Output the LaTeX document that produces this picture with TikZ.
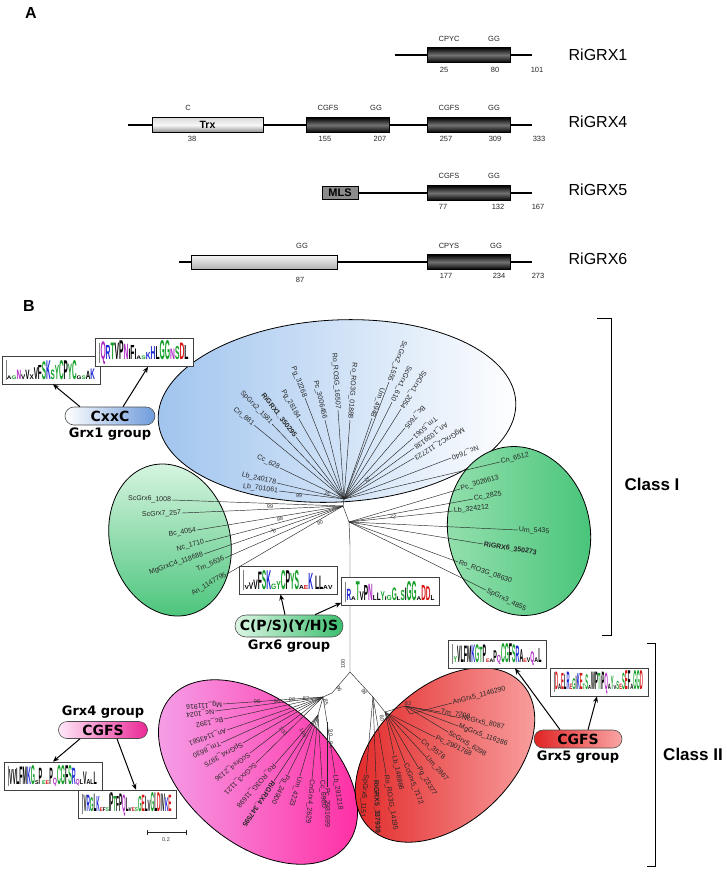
\documentclass[tikz,border=0pt]{standalone}
\usepackage{fontspec}
\setmainfont{Liberation Sans}
\newfontfamily\grpfont{DejaVu Sans}
\usepackage{graphicx}
\usetikzlibrary{arrows.meta,positioning,shapes.misc}

\definecolor{bluL}{RGB}{160,196,238}
\definecolor{grnL}{RGB}{220,246,228}
\definecolor{grnM}{RGB}{150,225,175}
\definecolor{grnD}{RGB}{70,195,120}
\definecolor{pnkL}{RGB}{245,165,235}
\definecolor{pnkW}{RGB}{255,232,248}
\definecolor{pnkD}{RGB}{255,40,160}
\definecolor{redD}{RGB}{225,35,35}
\definecolor{redM}{RGB}{238,80,80}
\definecolor{redL}{RGB}{250,165,165}
\definecolor{pillB}{RGB}{110,155,220}
\definecolor{pillG}{RGB}{60,190,110}
\definecolor{pillP}{RGB}{235,40,150}
\definecolor{lgcP}{RGB}{20,160,40}
\definecolor{lgcB}{RGB}{30,40,210}
\definecolor{lgcA}{RGB}{215,20,20}
\definecolor{lgcN}{RGB}{175,40,195}

% logo letters: stack height, letter
\newcommand{\lgH}[2]{\scalebox{1}[#1]{#2}}
\newcommand{\lgP}[2]{\textcolor{lgcP}{\scalebox{1}[#1]{#2}}}
\newcommand{\lgB}[2]{\textcolor{lgcB}{\scalebox{1}[#1]{#2}}}
\newcommand{\lgA}[2]{\textcolor{lgcA}{\scalebox{1}[#1]{#2}}}
\newcommand{\lgN}[2]{\textcolor{lgcN}{\scalebox{1}[#1]{#2}}}

% tree leaves: name, outer end, hub, label
\newcommand{\inleaf}[4]{\draw[branch] (#2) -- (#3) node[leafin] (#1) {#4};}
\newcommand{\outleaf}[4]{\draw[branch] (#3) -- (#2) node[leafout] (#1) {#4};}
\newcommand{\bsv}[4]{\node[boot, rotate=#3] (#1) at (#2) {#4};}

\tikzset{
  backbone/.style={line width=1.3pt},
  dom/.style={draw, line width=0.8pt, minimum height=15pt, minimum width=83pt, inner sep=0pt,
    top color=black, bottom color=black, middle color=black!55},
  trxbox/.style={draw, line width=0.8pt, minimum height=15pt, inner sep=0pt,
    top color=black!15, bottom color=black!45, middle color=black!3,
    font=\bfseries\fontsize{10.5}{11}\selectfont},
  mlsbox/.style={draw, line width=0.8pt, minimum height=13pt, minimum width=36pt, inner sep=0pt,
    fill=black!45, font=\bfseries\fontsize{11}{11}\selectfont},
  lightbox/.style={draw, line width=0.8pt, minimum height=14pt, inner sep=0pt,
    top color=black!4, bottom color=black!30},
  mot/.style={font=\fontsize{7.5}{8}\selectfont, text=black!85},
  prot/.style={font=\fontsize{16}{16}\selectfont},
  branch/.style={line width=0.45pt, black!85},
  leafin/.style={pos=0, sloped, allow upside down, anchor=east, inner sep=0.8pt,
    font=\fontsize{7}{7}\selectfont},
  leafout/.style={pos=1, sloped, allow upside down, anchor=west, inner sep=0.8pt,
    font=\fontsize{7}{7}\selectfont},
  boot/.style={font=\fontsize{5.5}{5.5}\selectfont, text=black!80, inner sep=0pt},
  logo/.style={draw=black!75, line width=0.7pt, fill=white, minimum width=98pt,
    minimum height=28pt, inner sep=0pt, font=\bfseries,
    path picture={\draw[black!50, line width=0.3pt]
      ([xshift=4pt,yshift=4pt]path picture bounding box.south west) --
      ([xshift=4pt,yshift=-4pt]path picture bounding box.north west);}},
  pill/.style={rounded rectangle, draw=black!70, line width=0.6pt, minimum height=18pt,
    inner sep=2pt, font=\grpfont\bfseries\fontsize{14}{14}\selectfont},
  grp/.style={font=\grpfont\bfseries\fontsize{13}{13}\selectfont, inner sep=1pt},
  arr/.style={-{Stealth[length=6pt,width=5pt]}, line width=1pt},
  cls/.style={font=\bfseries\fontsize{17}{17}\selectfont},
  bracket/.style={line width=1pt},
}

\begin{document}
\begin{tikzpicture}[x=1pt, y=-1pt]
\useasboundingbox (0,0) rectangle (727,872);

%% panel A
\node[font=\bfseries\fontsize{16}{16}\selectfont] (lblA) at (31,13) {A};

% RiGRX1
\node[dom] (d1) at (468.5,55) {};
\draw[backbone] (395,55) -- (d1) -- (532,55);
\node[mot] (d1a) at (449,39) {CPYC};
\node[mot] (d1b) at (494,39) {GG};
\foreach \x/\t [count=\i] in {444/25,495/80,537/101}
  \node[mot] (d1n\i) at (\x,70) {\t};
\node[prot] (g1) at (598,55) {RiGRX1};

% RiGRX4
\node[trxbox, minimum width=111pt] (trx) at (207.5,125) {Trx};
\node[dom] (d4a) at (347.5,125) {};
\node[dom] (d4b) at (468.5,125) {};
\draw[backbone] (128,125) -- (trx) -- (d4a) -- (d4b) -- (532,125);
\foreach \x/\t [count=\i] in {188/C,328/CGFS,376/GG,449/CGFS,494/GG}
  \node[mot] (d4m\i) at (\x,108) {\t};
\foreach \x/\t [count=\i] in {192/38,325/155,380/207,446/257,495/309,539/333}
  \node[mot] (d4n\i) at (\x,139) {\t};
\node[prot] (g4) at (598,122) {RiGRX4};

% RiGRX5
\node[mlsbox] (mls) at (340,193) {MLS};
\node[dom] (d5) at (468.5,193) {};
\draw[backbone] (mls) -- (d5) -- (532,193);
\foreach \x/\t [count=\i] in {449/CGFS,494/GG}
  \node[mot] (d5m\i) at (\x,176) {\t};
\foreach \x/\t [count=\i] in {443/77,498/132,538/167}
  \node[mot] (d5n\i) at (\x,207) {\t};
\node[prot] (g5) at (598,190) {RiGRX5};

% RiGRX6
\node[lightbox, minimum width=146pt] (lb6) at (264,262) {};
\node[dom] (d6) at (468.5,262) {};
\draw[backbone] (179,262) -- (lb6) -- (d6) -- (532,262);
\foreach \x/\t [count=\i] in {302/GG,449/CPYS,496/GG}
  \node[mot] (d6m\i) at (\x,246) {\t};
\foreach \x/\t [count=\i] in {446/177,499/234,538/273}
  \node[mot] (d6n\i) at (\x,276) {\t};
\node[mot] (d6n0) at (300,280) {87};
\node[prot] (g6) at (598,259) {RiGRX6};

%% panel B
\node[font=\bfseries\fontsize{16}{16}\selectfont] (lblB) at (29,306) {B};

% group ellipses
\path[draw, line width=0.8pt, left color=bluL, right color=white, shift={(337,411)}, rotate=3]
  (0,0) ellipse [x radius=179pt, y radius=91pt];
\path[draw, line width=0.8pt, top color=grnL, bottom color=grnD, shift={(170,540)}, rotate=15]
  (0,0) ellipse [x radius=60pt, y radius=77pt];
\path[draw, line width=0.8pt, left color=grnM, middle color=grnL!60!white, right color=grnD,
  shift={(519,531)}, rotate=12] (0,0) ellipse [x radius=71pt, y radius=85pt];
\path[draw, line width=0.8pt, left color=pnkL, middle color=pnkW, right color=pnkD,
  shift={(258,772)}, rotate=-40] (0,0) ellipse [x radius=115pt, y radius=72pt];
\path[draw, line width=0.8pt, left color=redD, middle color=redM, right color=redL,
  shift={(445,755)}, rotate=43] (0,0) ellipse [x radius=105pt, y radius=68pt];

% hubs
\coordinate (hB) at (344,499);
\coordinate (hL) at (343,506);
\coordinate (hR) at (349,522);
\coordinate (split) at (350,672);
\coordinate (hPa) at (332,693);
\coordinate (hP) at (323,697);
\coordinate (hP2) at (318,715);
\coordinate (hP3) at (327,722);
\coordinate (hRd) at (373,697);
\coordinate (hRd1) at (385,712);
\coordinate (hRd2) at (405,706);
\coordinate (hRd3) at (410,714);

\draw[branch] (hB) -- (hL) -- (hR) -- (350,545) -- (split);
\draw[branch] (split) -- (hPa) -- (hP) -- (hP2);
\draw[branch] (hP) -- (hP3);
\draw[branch] (split) -- (hRd) -- (hRd1) -- (hRd2) -- (hRd3);

% Grx1 group
\inleaf{b1}{254,425}{hB}{Cn\_881}
\inleaf{b2}{272,424}{hB}{SpGrx2\_1581}
\inleaf{b3}{296,437}{hB}{\textbf{RiGRX1\_350295}}
\inleaf{b4}{299,419}{hB}{Pg\_28184}
\inleaf{b5}{305,398}{hB}{Pg\_32268}
\inleaf{b6}{325,420}{hB}{Pc\_3006456}
\inleaf{b7}{338,410}{hB}{Ro\_RO3G\_16507}
\inleaf{b8}{350,420}{hB}{Ro\_RO3G\_01888}
\inleaf{b9}{372,418}{hB}{Um\_4948}
\inleaf{b10}{389,382}{hB}{ScGrx2\_1555}
\inleaf{b11}{392,402}{hB}{ScGrx1\_610}
\inleaf{b12}{401,409}{hB}{SpGrx1\_2054}
\inleaf{b13}{405,428}{hB}{Bc\_7605}
\inleaf{b14}{413,438}{hB}{Tm\_5061}
\inleaf{b15}{414,448}{hB}{An\_1039138}
\inleaf{b16}{414,458}{hB}{MgGrxC2\_112723}
\inleaf{b17}{451,458}{hB}{Nc\_7640}
\inleaf{b18}{280,468}{hB}{Cc\_628}
\inleaf{b19}{277,483}{hB}{Lb\_240178}
\inleaf{b20}{279,491}{hB}{Lb\_701061}

% Grx6 group, left
\inleaf{l1}{172,500}{hL}{ScGrx6\_1008}
\inleaf{l2}{182,513}{hL}{ScGrx7\_257}
\inleaf{l3}{197,530}{hL}{Bc\_4054}
\inleaf{l4}{205,542}{hL}{Nc\_1710}
\inleaf{l5}{204,554}{hL}{MgGrxC4\_118688}
\inleaf{l6}{225,558}{hL}{Tm\_5636}
\inleaf{l7}{227,574}{hL}{An\_1147795}

% Grx6 group, right
\outleaf{r1}{500,462}{hB}{Cn\_6512}
\outleaf{r2}{460,489}{hR}{Pc\_3026613}
\outleaf{r3}{473,499}{hR}{Cc\_2825}
\outleaf{r4}{453,511}{hR}{Lb\_324212}
\outleaf{r5}{518,530}{hR}{Um\_5435}
\outleaf{r6}{483,544}{hR}{\textbf{RiGRX6\_350273}}
\outleaf{r7}{458,562}{hR}{Ro\_RO3G\_08630}
\outleaf{r8}{486,590}{hR}{SpGrx3\_4855}

% Grx4 group
\outleaf{p1}{223,704}{hP}{Mg\_111916}
\outleaf{p2}{215,711}{hP}{Nc\_1024}
\outleaf{p3}{224,719}{hP}{Bc\_1392}
\outleaf{p4}{227,730}{hP}{An\_1143581}
\outleaf{p5}{221,743}{hP}{Tm\_8630}
\outleaf{p6}{243,743}{hP}{SpGrx4\_3975}
\outleaf{p7}{250,753}{hP}{ScGrx4\_2136}
\outleaf{p8}{256,763}{hP}{ScGrx3\_1121}
\outleaf{p9}{275,764}{hP2}{Ro\_RO3G\_11698}
\outleaf{p10}{274,781}{hP2}{\textbf{RiGRX4\_347595}}
\outleaf{p11}{288,774}{hP2}{Pg\_24900}
\outleaf{p12}{300,776}{hP2}{Um\_4223}
\outleaf{p13}{312,779}{hP2}{CnGrx4\_2629}
\outleaf{p14}{322,779}{hP2}{Cc\_6980}
\outleaf{p15}{327,787}{hP3}{Pc\_2981699}
\outleaf{p16}{335,774}{hP3}{Lb\_291218}

% Grx5 group
\outleaf{d1}{366,774}{hRd}{SpGrx5\_1151}
\outleaf{d2}{376,779}{hRd}{\textbf{RiGRX5\_337939}}
\outleaf{d3}{386,774}{hRd}{Ro\_RO3G\_14195}
\outleaf{d4}{394,755}{hRd1}{Lb\_148866}
\outleaf{d5}{405,763}{hRd1}{CcGrx5\_7172}
\outleaf{d6}{418,767}{hRd1}{Pg\_23377}
\outleaf{d7}{426,757}{hRd1}{Um\_2867}
\outleaf{d8}{421,740}{hRd1}{Cn\_3578}
\outleaf{d9}{435,737}{hRd1}{Pc\_2901768}
\outleaf{d10}{448,732}{hRd2}{ScGrx5\_6298}
\outleaf{d11}{458,726}{hRd2}{MgGrx5\_116286}
\outleaf{d12}{461,718}{hRd2}{NcGrx5\_8087}
\outleaf{d13}{440,712}{hRd2}{Tm\_7208}
\outleaf{d14}{452,703}{hRd3}{AnGrx5\_1146290}

% bootstrap values
\bsv{bs1}{327,494}{-30}{75}
\bsv{bs2}{299,496}{-5}{99}
\bsv{bs3}{367,480}{-60}{72}
\bsv{bs4}{270,507}{0}{99}
\bsv{bs5}{280,519}{5}{98}
\bsv{bs6}{273,531}{-15}{76}
\bsv{bs7}{320,523}{15}{90}
\bsv{bs8}{393,517}{-10}{72}
\bsv{bs9}{343,664}{90}{100}
\bsv{bs10}{257,702}{0}{98}
\bsv{bs11}{277,702}{0}{96}
\bsv{bs12}{292,700}{0}{98}
\bsv{bs13}{306,699}{0}{82}
\bsv{bs14}{339,689}{-60}{96}
\bsv{bs15}{326,702}{-80}{85}
\bsv{bs16}{283,731}{-50}{100}
\bsv{bs17}{303,733}{-60}{100}
\bsv{bs18}{331,733}{-90}{90}
\bsv{bs19}{331,745}{-90}{94}
\bsv{bs20}{364,692}{-60}{98}
\bsv{bs21}{408,704}{0}{83}
\bsv{bs22}{382,718}{-80}{80}

% scale bar
\coordinate (sb1) at (147,832);
\coordinate (sb2) at (186,832);
\draw[branch] (sb1) -- (sb2);
\draw[branch] ([yshift=-2.5pt]sb1) -- ([yshift=2.5pt]sb1);
\draw[branch] ([yshift=-2.5pt]sb2) -- ([yshift=2.5pt]sb2);
\node[boot] (sbl) at (166,840) {0.2};

% classes
\draw[bracket] (597,318) -- (611,318) -- (611,635) -- (602,635);
\draw[bracket] (647,643) -- (655,643) -- (655,866) -- (647,866);
\node[cls] (c1) at (652,484) {Class I};
\node[cls] (c2) at (693,754) {Class II};

% logos
\node[logo] (l1a) at (51,370) {\resizebox{88pt}{19pt}{\lgH{.3}{A}\lgP{.3}{G}\lgN{.8}{N}\lgH{.4}{V}\lgH{.8}{V}\lgH{.4}{X}\lgH{1.0}{V}\lgH{1.2}{F}\lgP{1.5}{S}\lgB{1.6}{K}\lgP{.8}{S}\lgP{1.2}{Y}\lgP{1.6}{C}\lgH{1.6}{P}\lgP{1.3}{Y}\lgP{1.6}{C}\lgH{.3}{G}\lgP{.3}{S}\lgH{.7}{A}\lgB{.9}{K}}};
\node[logo] (l1b) at (144.5,352.5) {\resizebox{88pt}{19pt}{\lgN{1.5}{Q}\lgB{1.2}{R}\lgP{1.4}{T}\lgH{1.4}{V}\lgH{1.6}{P}\lgN{1.3}{N}\lgH{.9}{I}\lgH{1.2}{F}\lgH{.9}{I}\lgH{.3}{A}\lgP{.3}{S}\lgB{.6}{K}\lgB{1.1}{H}\lgH{1.1}{L}\lgP{1.6}{G}\lgP{1.6}{G}\lgN{.9}{N}\lgP{1.1}{S}\lgA{1.4}{D}\lgH{1.2}{L}}};
\node[logo] (l6a) at (288.5,580) {\resizebox{88pt}{19pt}{\lgH{.3}{V}\lgH{.5}{V}\lgH{.7}{V}\lgH{1.3}{F}\lgP{1.4}{S}\lgB{1.4}{K}\lgP{.4}{G}\lgP{.6}{Y}\lgP{1.4}{C}\lgH{1.4}{P}\lgP{1.2}{Y}\lgP{1.4}{S}\lgH{.3}{A}\lgA{.3}{E}\lgB{1.2}{K}\lgH{.3}{\ }\lgH{1.0}{L}\lgH{1.0}{L}\lgH{.3}{A}\lgH{.3}{V}}};
\node[logo] (l6b) at (390.5,591.5) {\resizebox{88pt}{19pt}{\lgB{.9}{R}\lgH{.3}{A}\lgP{1.5}{T}\lgH{.7}{V}\lgH{1.2}{P}\lgN{1.3}{N}\lgH{.4}{L}\lgH{.6}{L}\lgP{.7}{Y}\lgH{.3}{I}\lgP{.4}{G}\lgP{1.0}{G}\lgH{.3}{L}\lgP{.8}{S}\lgH{1.0}{I}\lgP{1.5}{G}\lgP{1.5}{G}\lgH{.3}{A}\lgA{1.2}{D}\lgA{1.1}{D}\lgH{.4}{L}}};
\node[logo] (l5a) at (497.5,654) {\resizebox{88pt}{19pt}{\lgP{.5}{Y}\lgH{1.4}{V}\lgH{1.4}{L}\lgH{1.4}{F}\lgH{1.4}{M}\lgB{1.5}{K}\lgP{1.5}{G}\lgP{1.3}{T}\lgH{1.5}{P}\lgA{.3}{E}\lgH{.3}{A}\lgH{1.0}{P}\lgN{.6}{Q}\lgP{1.6}{C}\lgP{1.6}{G}\lgH{1.6}{F}\lgP{1.5}{S}\lgB{1.4}{R}\lgH{1.1}{A}\lgA{.3}{E}\lgH{.4}{V}\lgN{.9}{Q}\lgH{.4}{A}\lgH{1.2}{L}}};
\node[logo] (l5b) at (599,682) {\resizebox{88pt}{19pt}{\lgA{1.3}{D}\lgH{.4}{A}\lgA{1.2}{E}\lgH{1.1}{L}\lgB{1.3}{R}\lgA{.4}{E}\lgP{.8}{G}\lgH{1.0}{I}\lgB{1.2}{K}\lgA{1.2}{E}\lgP{.4}{T}\lgP{1.1}{S}\lgH{.3}{A}\lgH{1.3}{W}\lgH{1.3}{P}\lgP{1.2}{T}\lgH{1.0}{I}\lgH{1.3}{P}\lgN{1.2}{Q}\lgH{.4}{A}\lgP{1.0}{Y}\lgH{.3}{V}\lgP{.6}{S}\lgA{.4}{E}\lgP{1.2}{S}\lgA{1.4}{E}\lgH{1.4}{F}\lgH{.4}{A}\lgP{1.4}{G}\lgP{1.4}{G}\lgA{1.4}{D}}};
\node[logo] (l4a) at (53,776) {\resizebox{88pt}{19pt}{\lgH{1.2}{V}\lgH{1.2}{V}\lgH{1.3}{L}\lgH{1.4}{F}\lgH{1.4}{M}\lgB{1.4}{K}\lgP{1.5}{G}\lgH{.3}{S}\lgH{1.3}{P}\lgP{.3}{E}\lgA{.3}{E}\lgH{1.3}{P}\lgN{.5}{Q}\lgP{1.5}{C}\lgP{1.5}{G}\lgH{1.5}{F}\lgP{1.5}{S}\lgB{1.3}{R}\lgN{.4}{Q}\lgH{.4}{L}\lgH{1.0}{V}\lgH{.4}{A}\lgH{.4}{L}\lgH{1.0}{L}}};
\node[logo] (l4b) at (127.5,804) {\resizebox{88pt}{19pt}{\lgH{1.3}{V}\lgB{1.3}{R}\lgP{1.1}{G}\lgH{1.4}{L}\lgB{1.2}{K}\lgA{.3}{E}\lgH{.3}{F}\lgP{.3}{S}\lgH{1.4}{I}\lgH{1.5}{P}\lgP{1.2}{T}\lgH{1.2}{F}\lgH{1.4}{P}\lgN{1.3}{Q}\lgH{1.1}{L}\lgH{.3}{V}\lgA{.3}{E}\lgP{.3}{S}\lgP{1.2}{G}\lgA{1.3}{E}\lgH{1.2}{L}\lgH{.9}{V}\lgP{1.5}{G}\lgH{1.5}{L}\lgA{1.5}{D}\lgH{1.4}{I}\lgH{1.4}{V}\lgB{1.1}{K}\lgA{1.3}{E}}};

% motif pills and group names
\node[pill, minimum width=94pt, minimum height=18pt, left color=white, right color=pillB] (pill1) at (110,416) {CxxC};
\node[grp, below=1pt of pill1] (grp1) {Grx1 group};
\node[pill, minimum width=112pt, minimum height=22pt, left color=grnL, right color=pillG] (pill6) at (289,626) {C(P/S)(Y/H)S};
\node[grp, below=1pt of pill6] (grp6) {Grx6 group};
\node[pill, minimum width=93pt, minimum height=17pt, left color=pnkW, right color=pillP] (pill4) at (103,730) {CGFS};
\node[grp, above=2pt of pill4] (grp4) {Grx4 group};
\node[pill, minimum width=92pt, minimum height=18pt, left color=redD, right color=redL] (pill5) at (578,739) {CGFS};
\node[grp, below=1pt of pill5] (grp5) {Grx5 group};

% arrows to logos
\draw[arr] ([xshift=-30pt]pill1.north) -- ([xshift=2pt]l1a.south);
\draw[arr] ([xshift=13pt]pill1.north) -- ([xshift=3.5pt]l1b.south);
\draw[arr] ([xshift=-4pt]pill6.north) -- ([xshift=-8pt]l6a.south);
\draw[arr] ([xshift=26pt]pill6.north) -- ([yshift=3pt]l6b.south west);
\draw[arr] ([xshift=-18pt]pill5.north) -- ([xshift=17.5pt]l5a.south);
\draw[arr] ([xshift=10pt]pill5.north) -- ([xshift=-2pt]l5b.south);
\draw[arr] ([xshift=-23pt]pill4.south) -- (l4a.north);
\draw[arr] ([xshift=14pt]pill4.south) -- ([xshift=8.5pt]l4b.north);

\end{tikzpicture}
\end{document}
